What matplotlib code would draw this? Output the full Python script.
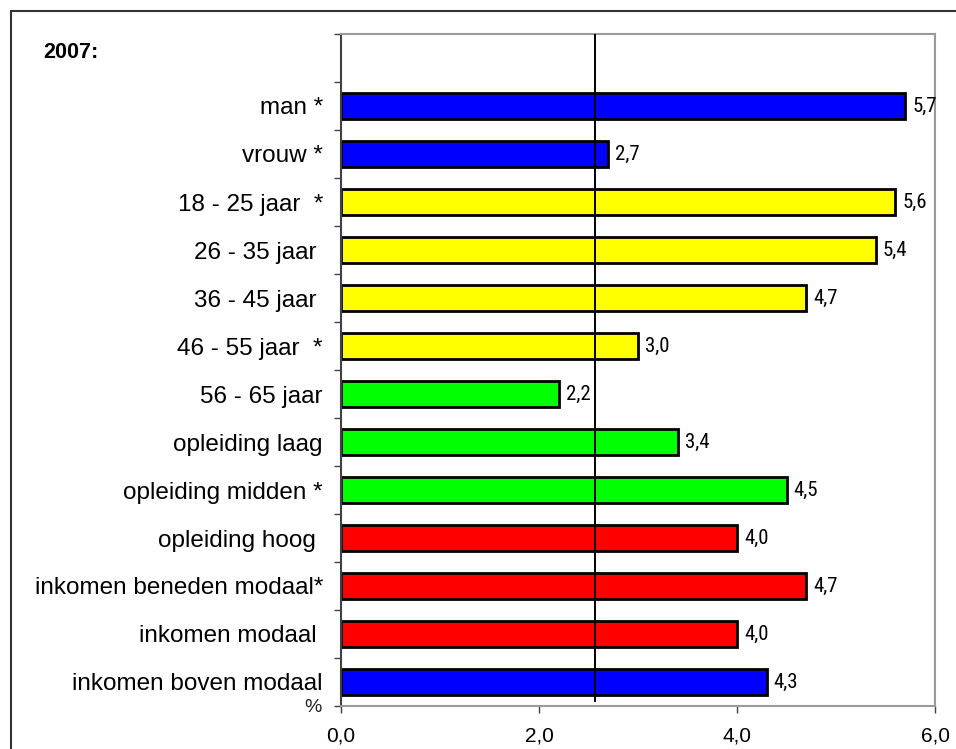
import matplotlib
matplotlib.use("Agg")
import matplotlib.pyplot as plt
from matplotlib.patches import Rectangle
from matplotlib import font_manager
from matplotlib.font_manager import FontProperties

categories = ["man *", "vrouw *", "18 - 25 jaar  *", "26 - 35 jaar ", "36 - 45 jaar ",
              "46 - 55 jaar  *", "56 - 65 jaar", "opleiding laag", "opleiding midden *",
              "opleiding hoog ", "inkomen beneden modaal*", "inkomen modaal ",
              "inkomen boven modaal"]
values = [5.7, 2.7, 5.6, 5.4, 4.7, 3.0, 2.2, 3.4, 4.5, 4.0, 4.7, 4.0, 4.3]
colors = ["#0000FF", "#0000FF", "#FFFF00", "#FFFF00", "#FFFF00", "#FFFF00",
          "#00FF00", "#00FF00", "#00FF00", "#FF0000", "#FF0000", "#FF0000", "#0000FF"]
average = 2.57
xticks = [0.0, 2.0, 4.0, 6.0]
xtick_labels = ["0,0", "2,0", "4,0", "6,0"]
year_label = "2007:"

HEAVY = ("bold", "medium", "semibold", "black", "heavy", "extra", "thin",
         "light", "italic", "oblique")


def narrow_font(size):
    """Pick a regular-weight condensed sans-serif face for the value labels."""
    fonts = font_manager.fontManager.ttflist
    prefs = ["Liberation Sans Narrow", "Roboto Condensed", "Open Sans Condensed",
             "Noto Sans Condensed", "DejaVu Sans Condensed"]

    def regular(f):
        low = f.fname.lower().rsplit("/", 1)[-1]
        return f.style == "normal" and f.weight in (400, "normal", "regular") \
            and not any(w in low for w in HEAVY)

    for p in prefs:
        for f in fonts:
            if f.name == p and regular(f):
                return FontProperties(fname=f.fname, size=size)
    for f in fonts:
        low = f.fname.lower()
        if ("condensed" in low or "narrow" in low) and regular(f):
            return FontProperties(fname=f.fname, size=size)
    return FontProperties(family="Liberation Sans", size=size)


plt.rcParams["font.family"] = ["Liberation Sans", "DejaVu Sans"]

fig = plt.figure(figsize=(9.56, 7.49), dpi=100)
ax = fig.add_axes([341 / 956, 1 - 706 / 749, (935 - 341) / 956, (706 - 34) / 749])

n = len(categories)
# one empty slot is kept above the first bar
ypos = [n - 1 - i for i in range(n)]
ax.barh(ypos, values, height=0.54, color=colors, edgecolor="black", linewidth=2.0, zorder=2)

value_font = narrow_font(15)
for y, v in zip(ypos, values):
    ax.annotate(f"{v:.1f}".replace(".", ","), (v, y), xytext=(5, 0),
                textcoords="offset points", va="center", ha="left",
                fontproperties=value_font, zorder=3)

ax.axvline(average, ymin=0.008, ymax=1, color="black", linewidth=1.4, zorder=3)

ax.set_xlim(0, 6)
ax.set_ylim(-0.5, n + 0.5)
ax.set_xticks(xticks)
ax.set_xticklabels(xtick_labels, fontsize=15)
ax.set_yticks(ypos)
ax.set_yticklabels(categories, fontsize=17.5)
ax.set_yticks([y - 0.5 for y in range(n + 1)] + [n + 0.5], minor=True)
ax.tick_params(axis="y", which="major", length=0, pad=13)
ax.tick_params(axis="y", which="minor", length=5, width=1, color="#404040")
ax.tick_params(axis="x", length=5, width=1, color="#404040", pad=10)

for side in ("top", "right", "bottom"):
    ax.spines[side].set_color("#999999")
    ax.spines[side].set_linewidth(1.5)
ax.spines["left"].set_color("#404040")
ax.spines["left"].set_linewidth(1.5)

fig.text(313 / 956, 1 - 707 / 749, "%", ha="center", va="center",
         fontsize=14, color="#222222")
fig.text(43 / 956, 1 - 53 / 749, year_label, fontsize=15.5, fontweight="bold",
         ha="left", va="center")

fig.patches.append(Rectangle((11 / 956, -0.05), 1.2, 1 - 11 / 749 + 0.05,
                             transform=fig.transFigure, fill=False,
                             edgecolor="#333333", linewidth=1.5))

fig.savefig("out.png", dpi=100)
